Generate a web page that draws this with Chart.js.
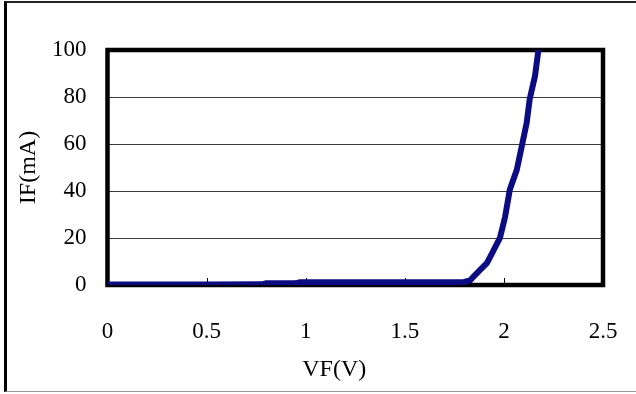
<!DOCTYPE html>
<html>
<head>
<meta charset="utf-8">
<script src="https://cdn.jsdelivr.net/npm/chart.js@4"></script>
<style>
  body { margin: 0; background: #fff; }
  .frame {
    position: absolute; left: 4px; top: 1px; width: 632px; height: 391px;
    box-sizing: border-box;
    border-left: 3px solid #000;
    border-top: 2px solid #222;
    border-bottom: 1px solid #999;
  }
  canvas { position: absolute; left: 0; top: 0; }
</style>
</head>
<body>
<div class="frame"></div>
<canvas id="ivChart" width="636" height="394"></canvas>
<script>
// --- DATA | IV CURVE --- //
const vf = [0, 0.5, 0.78, 0.8, 0.95, 0.97, 1.5, 1.8, 1.83, 1.846, 1.88, 1.914, 1.94, 1.98, 2.006, 2.03, 2.065, 2.09, 2.115, 2.13, 2.157, 2.174]
const current = [0.2, 0.2, 0.3, 0.7, 0.7, 1.2, 1.2, 1.3, 2, 3.5, 6.4, 9.3, 13.5, 20, 29, 40.6, 49, 59, 69, 79, 89, 100]
const xTicks = [0, 0.5, 1, 1.5, 2, 2.5]
const yTicks = [0, 20, 40, 60, 80, 100]

const tickFont = { family: "'Liberation Serif', 'Times New Roman', serif", size: 23 }
const titleFont = { family: "'Liberation Serif', 'Times New Roman', serif", size: 24 }

// plot frame + small inner ticks on the x axis
const plotFrame = {
  id: 'plotFrame',
  beforeDatasetsDraw: chart => {
    const { ctx, chartArea: a, scales: { x } } = chart
    ctx.save()
    ctx.strokeStyle = '#000'
    ctx.lineWidth = 1
    xTicks.slice(1, -1).forEach(v => {
      const px = Math.round(x.getPixelForValue(v)) + 0.5
      ctx.beginPath()
      ctx.moveTo(px, a.bottom)
      ctx.lineTo(px, a.bottom - 7)
      ctx.stroke()
    })
    ctx.lineWidth = 4.5
    ctx.strokeRect(a.left, a.top, a.right - a.left, a.bottom - a.top)
    ctx.restore()
  }
}

const config = {
  type: 'scatter',
  data: {
    datasets: [
      {
        label: 'IF',
        data: vf.map((v, i) => ({ x: v, y: current[i] })),
        showLine: true,
        borderColor: '#0c0c82',
        borderWidth: 6,
        pointRadius: 0,
        tension: 0
      }
    ]
  },
  options: {
    responsive: false,
    animation: false,
    layout: { padding: { left: 8, right: 33, top: 50, bottom: 10 } },
    plugins: {
      legend: { display: false },
      tooltip: { enabled: false }
    },
    scales: {
      x: {
        type: 'linear',
        min: 0,
        max: 2.5,
        afterBuildTicks: s => { s.ticks = xTicks.map(v => ({ value: v })) },
        ticks: { padding: 25, color: '#000', font: tickFont, maxRotation: 0, callback: v => String(v) },
        grid: { display: false },
        border: { display: false },
        // trailing spaces nudge the title left, like the original
        title: { display: true, text: 'VF(V)\u00a0\u00a0\u00a0\u00a0\u00a0\u00a0\u00a0', color: '#000', font: titleFont, padding: { top: 0, bottom: 0 } },
        afterFit: s => {
          s.height = 99
          s.paddingLeft = 0
          s.paddingRight = 0
        }
      },
      y: {
        min: 0,
        max: 100,
        afterBuildTicks: s => { s.ticks = yTicks.map(v => ({ value: v })) },
        ticks: { padding: 21, color: '#000', font: tickFont },
        grid: { color: '#3a3a3a', lineWidth: 1, drawTicks: false },
        border: { display: false },
        title: { display: true, text: 'IF(mA)', color: '#000', font: titleFont, padding: { top: 6, bottom: 0 } },
        afterFit: s => {
          s.width = 99.5
          s.paddingTop = 0
          s.paddingBottom = 0
        }
      }
    }
  },
  plugins: [plotFrame]
}

const ivChart = new Chart(document.getElementById('ivChart'), config)
</script>
</body>
</html>
